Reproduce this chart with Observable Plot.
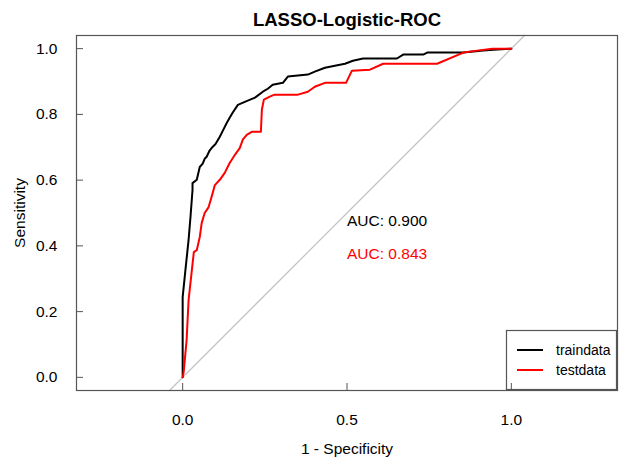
<!DOCTYPE html>
<html><head><meta charset="utf-8">
<script src="https://cdn.jsdelivr.net/npm/d3@7"></script>
<script src="https://cdn.jsdelivr.net/npm/@observablehq/plot@0.6"></script>
<style>body{margin:0;background:#fff}</style>
</head><body><div id="chart"></div>
<script>
const title = "LASSO-Logistic-ROC";
const xLabel = "1 - Specificity";
const yLabel = "Sensitivity";
const seriesNames = ["traindata", "testdata"];
const seriesColors = ["#000000", "#ff0000"];
const aucLabels = ["AUC: 0.900", "AUC: 0.843"];
const aucY = [0.5, 0.4];
const aucX = 0.5;
const xTicks = [0, 0.5, 1];
const yTicks = [0, 0.2, 0.4, 0.6, 0.8, 1];
const diagonal = [-0.04, 1.04];

const trainFpr = [0, 0, 0.009, 0.018, 0.024, 0.030, 0.030, 0.043, 0.052, 0.061, 0.067, 0.073, 0.082, 0.091, 0.100, 0.113, 0.122, 0.134, 0.143, 0.152, 0.168, 0.189, 0.220, 0.244, 0.259, 0.274, 0.305, 0.320, 0.381, 0.402, 0.433, 0.463, 0.494, 0.518, 0.549, 0.652, 0.671, 0.732, 0.744, 0.854, 0.915, 0.945, 1];
const trainTpr = [0, 0.244, 0.332, 0.418, 0.490, 0.570, 0.591, 0.601, 0.640, 0.650, 0.665, 0.671, 0.690, 0.701, 0.710, 0.732, 0.750, 0.774, 0.790, 0.805, 0.829, 0.838, 0.851, 0.869, 0.878, 0.890, 0.896, 0.915, 0.921, 0.930, 0.942, 0.948, 0.954, 0.963, 0.970, 0.970, 0.982, 0.982, 0.988, 0.988, 0.994, 0.997, 1];

const testFpr = [0, 0.003, 0.012, 0.018, 0.027, 0.034, 0.043, 0.052, 0.058, 0.067, 0.079, 0.088, 0.098, 0.113, 0.128, 0.143, 0.159, 0.174, 0.183, 0.195, 0.210, 0.238, 0.241, 0.247, 0.265, 0.280, 0.351, 0.381, 0.402, 0.433, 0.497, 0.515, 0.570, 0.610, 0.774, 0.854, 0.896, 0.942, 1];
const testTpr = [0, 0.015, 0.113, 0.235, 0.317, 0.381, 0.387, 0.427, 0.470, 0.500, 0.518, 0.549, 0.585, 0.601, 0.622, 0.652, 0.677, 0.698, 0.723, 0.738, 0.747, 0.747, 0.814, 0.845, 0.854, 0.860, 0.860, 0.869, 0.884, 0.896, 0.896, 0.933, 0.936, 0.954, 0.954, 0.988, 0.994, 1, 1];

const train = trainFpr.map((x, i) => ({x, y: trainTpr[i]}));
const test = testFpr.map((x, i) => ({x, y: testTpr[i]}));
const auc = aucLabels.map((label, i) => ({label, x: aucX, y: aucY[i], color: seriesColors[i]}));

const W = 622, H = 457;
const mL = 76, mR = 5, mT = 35, mB = 67;
const frameW = W - mL - mR, frameH = H - mT - mB;
const font = "'Liberation Sans', Arial, Helvetica, sans-serif";

const svg = Plot.plot({
  width: W, height: H,
  marginLeft: mL, marginRight: mR, marginTop: mT, marginBottom: mB,
  style: {fontFamily: font, fontSize: "15px", background: "#fff", color: "#000"},
  x: {domain: [-0.323, 1.323]},
  y: {domain: [-0.04, 1.04]},
  marks: [
    Plot.line(diagonal, {x: d => d, y: d => d, stroke: "#c4c4c4", strokeWidth: 1.3}),
    Plot.line(train, {x: "x", y: "y", stroke: seriesColors[0], strokeWidth: 2}),
    Plot.line(test, {x: "x", y: "y", stroke: seriesColors[1], strokeWidth: 2}),
    Plot.text(auc, {x: "x", y: "y", text: "label", fill: "color", textAnchor: "start", lineAnchor: "top", dy: 2, fontSize: 15.5}),
    Plot.frame({stroke: "#555", strokeWidth: 1.2}),
    Plot.tickY(yTicks, {y: d => d, stroke: "#555", insetRight: frameW - 7}),
    Plot.tickX(xTicks, {x: d => d, stroke: "#555", insetTop: frameH - 7}),
    Plot.axisY({ticks: yTicks, tickFormat: ".1f", tickSize: 0, tickPadding: 19, label: null, fontSize: 15.5}),
    Plot.axisX({ticks: xTicks, tickFormat: ".1f", tickSize: 0, tickPadding: 23, label: null, fontSize: 15.5}),
    Plot.text([title], {text: d => d, frameAnchor: "top", textAnchor: "middle", lineAnchor: "top", dy: -23, fontSize: 18.5, fontWeight: "bold"}),
    Plot.text([xLabel], {text: d => d, frameAnchor: "bottom", textAnchor: "middle", lineAnchor: "top", dy: 52, fontSize: 15.5}),
    Plot.text([yLabel], {text: d => d, frameAnchor: "left", textAnchor: "middle", lineAnchor: "top", rotate: -90, dx: -63, fontSize: 15.5})
  ]
});

// legend box (bottom-right, inside plot frame)
const g = d3.select(svg).append("g")
  .attr("font-family", font).attr("font-size", 14).attr("text-anchor", "start");
const lx = W - mR - 111, ly = H - mB - 60;
g.append("rect").attr("x", lx + 0.5).attr("y", ly + 0.5).attr("width", 110).attr("height", 59)
  .attr("fill", "none").attr("stroke", "#555").attr("stroke-width", 1.2);
seriesNames.forEach((name, i) => {
  const yy = ly + 20 + i * 20;
  g.append("line").attr("x1", lx + 11).attr("x2", lx + 37).attr("y1", yy).attr("y2", yy)
    .attr("stroke", seriesColors[i]).attr("stroke-width", 2);
  g.append("text").attr("x", lx + 50).attr("y", yy).attr("dy", "0.35em")
    .attr("text-anchor", "start").attr("fill", "#000").text(name);
});

document.getElementById("chart").appendChild(svg);
</script>
</body></html>
